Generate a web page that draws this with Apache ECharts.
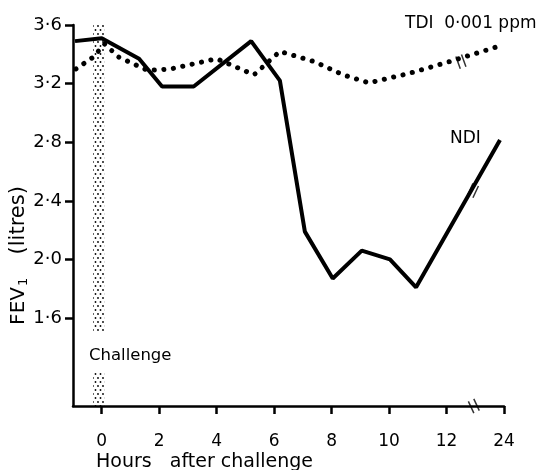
<!DOCTYPE html>
<html lang="en">
<head>
    <meta charset="UTF-8">
    <title>FEV1 after challenge</title>
    <script src="https://cdn.jsdelivr.net/npm/echarts@6/dist/echarts.min.js"></script>
    <style>
        html, body { margin: 0; padding: 0; background: #fff; }
        #chart { width: 542px; height: 470px; }
    </style>
</head>
<body>
<div id="chart"></div>
<script>
    // x = hours after challenge; the 24 h reading sits at position 14 (axis broken after 12)
    const tdiData = [
        [-0.9, 3.30], [-0.3, 3.38], [0.1, 3.47], [0.6, 3.38], [1.6, 3.29], [2.4, 3.30],
        [4.0, 3.37], [5.3, 3.26], [6.2, 3.42], [7.4, 3.35], [8.4, 3.26], [9.3, 3.205],
        [10.7, 3.27], [12.1, 3.35], [13.9, 3.46]
    ];
    const ndiData = [
        [-0.93, 3.49], [0, 3.51], [1.3, 3.37], [2.1, 3.18], [3.2, 3.18], [5.2, 3.49],
        [6.2, 3.22], [7.07, 2.19], [8.04, 1.87], [9.05, 2.06], [10.03, 2.0], [10.94, 1.81],
        [13.86, 2.815]
    ];
    const xTicks = [0, 2, 4, 6, 8, 10, 12, 14];
    const xTickLabels = ['0', '2', '4', '6', '8', '10', '12', '24'];
    const yTicks = [1.6, 2.0, 2.4, 2.8, 3.2, 3.6];
    const challengeBand = [-0.3, 0.1];
    const lineBreaks = [[12.5, 3.35, 20], [12.92, 2.47, -25]];
    const axisBreak = [[12.95, 1.0, 25]];

    // dotted fill for the challenge band
    const pat = document.createElement('canvas');
    pat.width = 5; pat.height = 8;
    const pctx = pat.getContext('2d');
    pctx.fillStyle = '#000';
    [[3, 2], [0.5, 6], [5.5, 6]].forEach(p => {
        pctx.beginPath(); pctx.arc(p[0], p[1], 0.9, 0, Math.PI * 2); pctx.fill();
    });

    const font = 'DejaVu Sans';
    const chart = echarts.init(document.getElementById('chart'));

    const breakSymbol = 'path://M0,0 L0,10 M4,0 L4,10';
    const textStyle = (size) => ({ fontFamily: font, fontSize: size, fontWeight: 'normal', color: '#000' });

    chart.setOption({
        animation: false,
        backgroundColor: '#fff',
        title: [
            { text: 'TDI  0·001 ppm', left: 400, top: 10, textStyle: textStyle(17) },
            { text: 'NDI', left: 445, top: 125, textStyle: textStyle(17) },
            { text: 'Challenge', left: 84, top: 342, textStyle: textStyle(16.5) },
            { text: 'Hours   after challenge', left: 91, top: 448, textStyle: textStyle(19) }
        ],
        grid: { left: 73, right: 38, top: 25, bottom: 64, outerBoundsMode: 'none' },
        xAxis: {
            type: 'value',
            min: -1,
            max: 14,
            splitLine: { show: false },
            axisLine: { lineStyle: { color: '#000', width: 2.5 } },
            axisTick: { customValues: xTicks, length: 8, lineStyle: { color: '#000', width: 2.5 } },
            axisLabel: {
                customValues: xTicks,
                formatter: v => xTickLabels[xTicks.indexOf(v)],
                fontFamily: font, fontSize: 17, color: '#000', margin: 27
            }
        },
        yAxis: {
            type: 'value',
            min: 1.0,
            max: 3.6,
            splitLine: { show: false },
            axisLine: { show: true, onZero: false, lineStyle: { color: '#000', width: 2.5 } },
            axisTick: { show: true, customValues: yTicks, length: 8, lineStyle: { color: '#000', width: 2.5 } },
            axisLabel: {
                customValues: yTicks,
                formatter: v => v.toFixed(1).replace('.', '·'),
                fontFamily: font, fontSize: 18, color: '#000', margin: 11
            },
            name: '{a|FEV}{s|1}       {b|(litres)}',
            nameLocation: 'middle',
            nameRotate: 90,
            nameGap: 43,
            nameMoveOverlap: false,
            nameTextStyle: {
                padding: [0, 80, 0, 0],
                rich: {
                    a: { fontFamily: font, fontSize: 20, color: '#000' },
                    b: { fontFamily: font, fontSize: 21, color: '#000' },
                    s: { fontFamily: font, fontSize: 13, color: '#000', padding: [9, 0, 0, 1] }
                }
            }
        },
        series: [
            {
                type: 'line',
                name: 'NDI',
                data: ndiData,
                showSymbol: false,
                clip: false,
                lineStyle: { color: '#000', width: 4 },
                markArea: {
                    silent: true,
                    itemStyle: { color: { image: pat, repeat: 'repeat' } },
                    data: [
                        [{ xAxis: challengeBand[0], yAxis: 3.62 }, { xAxis: challengeBand[1], yAxis: 1.5 }],
                        [{ xAxis: challengeBand[0], yAxis: 1.23 }, { xAxis: challengeBand[1], yAxis: 1.0 }]
                    ]
                }
            },
            {
                type: 'line',
                name: 'TDI',
                data: tdiData,
                showSymbol: false,
                clip: false,
                lineStyle: { color: '#000', width: 5, type: [0.1, 9.5], cap: 'round' }
            },
            {
                type: 'scatter',
                data: lineBreaks.concat(axisBreak),
                symbol: breakSymbol,
                symbolSize: [6, 13],
                symbolRotate: d => d[2],
                clip: false,
                silent: true,
                itemStyle: { color: 'none', borderColor: '#000', borderWidth: 2.2 }
            }
        ]
    });
</script>
</body>
</html>
